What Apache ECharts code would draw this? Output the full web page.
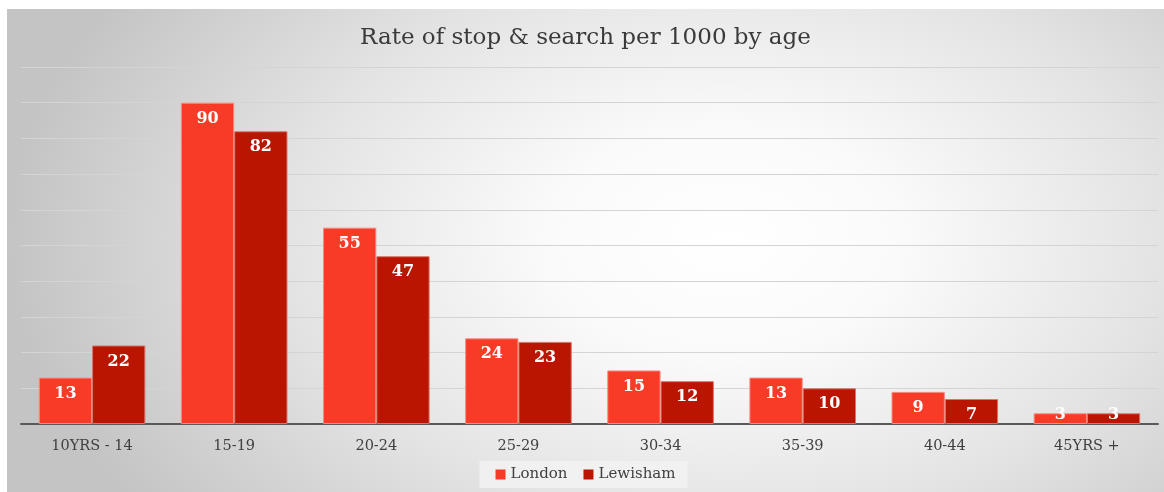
<!DOCTYPE html>
<html>
<head>
<meta charset="utf-8">
<script src="https://cdn.jsdelivr.net/npm/echarts@6/dist/echarts.min.js"></script>
<style>
html,body{margin:0;padding:0;background:#fff;}
#chart{position:absolute;left:7px;top:9px;width:1157px;height:483px;
  background: radial-gradient(ellipse 62% 95% at 62% 48%, #ffffff 0%, #fafafa 25%, #e4e4e4 60%, #c4c4c4 100%);}
</style>
</head>
<body>
<div id="chart"></div>
<script>
const categories = ['10YRS - 14','15-19','20-24','25-29','30-34','35-39','40-44','45YRS +'];
const london = [13, 90, 55, 24, 15, 13, 9, 3];
const lewisham = [22, 82, 47, 23, 12, 10, 7, 3];
const seriesNames = ['London', 'Lewisham'];

const FONT = '"DejaVu Serif", serif';
const chart = echarts.init(document.getElementById('chart'));

function mkData(arr) {
  return arr.map(v => v < 5 ? {value: v, label: {position: 'top', distance: -10}} : v);
}

const valueLabel = {
  show: true,
  position: 'insideTop',
  distance: 8,
  color: '#ffffff',
  fontFamily: FONT,
  fontWeight: 'bold',
  fontSize: 16
};

chart.setOption({
  backgroundColor: 'transparent',
  animation: false,
  title: {
    text: 'Rate of stop & search per 1000 by age',
    left: 'center',
    top: 13,
    textStyle: {fontFamily: FONT, fontWeight: 'normal', fontSize: 23, color: '#3a3a3a'}
  },
  legend: {
    data: seriesNames,
    bottom: 4,
    left: 'center',
    icon: 'rect',
    itemWidth: 10,
    itemHeight: 10,
    itemGap: 16,
    itemStyle: {borderWidth: 0},
    padding: [6, 12, 6, 16],
    backgroundColor: 'rgba(242,242,242,0.85)',
    textStyle: {fontFamily: FONT, fontSize: 15, color: '#404040'}
  },
  grid: {left: 14, right: 6, top: 58, bottom: 68, containLabel: false},
  xAxis: {
    type: 'category',
    data: categories,
    axisLine: {lineStyle: {color: '#595959', width: 2}},
    axisTick: {show: false},
    axisLabel: {fontFamily: FONT, fontSize: 14.5, color: '#404040', margin: 15}
  },
  yAxis: {
    type: 'value',
    min: 0, max: 100, interval: 10,
    axisLabel: {show: false},
    axisLine: {show: false},
    axisTick: {show: false},
    splitLine: {lineStyle: {color: '#d4d4d4', width: 1}}
  },
  series: [
    {
      name: seriesNames[0], type: 'bar', data: mkData(london),
      barGap: '0%', barCategoryGap: '25%',
      itemStyle: {color: '#F73B27', borderColor: '#F98A80', borderWidth: 1},
      label: valueLabel
    },
    {
      name: seriesNames[1], type: 'bar', data: mkData(lewisham),
      itemStyle: {color: '#B91500', borderColor: '#D8766B', borderWidth: 1},
      label: valueLabel
    }
  ]
});
</script>
</body>
</html>
